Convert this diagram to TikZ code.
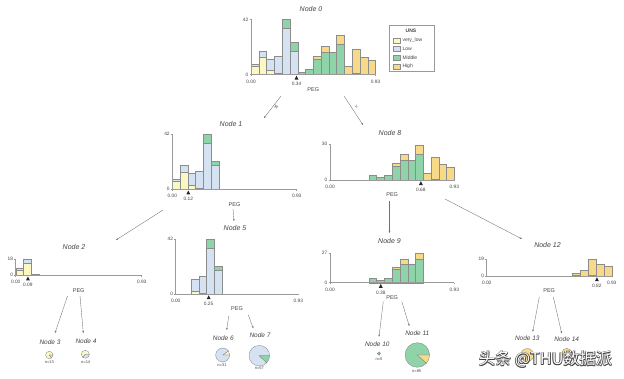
\documentclass[tikz,border=0pt]{standalone}
\usepackage{fontspec}
\setmainfont{Liberation Sans}
\newfontfamily\cjkfont{Noto Sans CJK SC}
\newfontfamily\symfont{DejaVu Sans}
\usetikzlibrary{arrows.meta}

\definecolor{cvl}{HTML}{FBF8C4}
\definecolor{clow}{HTML}{D5E2F1}
\definecolor{cmid}{HTML}{8FD3A8}
\definecolor{chigh}{HTML}{F7D98A}
\definecolor{axisgray}{HTML}{9A9A9A}
\definecolor{txtgray}{HTML}{444444}
\definecolor{edgegray}{HTML}{707070}

\tikzset{
  barline/.style={draw=black!45, line width=0.3pt},
  axisline/.style={draw=axisgray, line width=0.45pt},
  ticklbl/.style={text=txtgray, font=\fontsize{4.8}{5}\selectfont, inner sep=0pt},
  featlbl/.style={text=txtgray, font=\fontsize{5.5}{6}\selectfont, inner sep=0pt},
  titlelbl/.style={text=txtgray, font=\fontsize{7}{8}\selectfont\itshape, inner sep=0pt},
  leaftitle/.style={text=txtgray, font=\fontsize{6.5}{7}\selectfont\itshape, inner sep=0pt},
  nlbl/.style={text=txtgray, font=\fontsize{4}{4.5}\selectfont, inner sep=0pt},
  splitmark/.style={fill=black!85},
  edgeline/.style={draw=edgegray, line width=0.35pt, -{Stealth[length=2.2pt,width=1.8pt]}},
  pieline/.style={draw=black!50, line width=0.3pt},
  legtext/.style={text=txtgray, font=\fontsize{5}{6}\selectfont, inner sep=0pt, anchor=west},
}

% #1 x0, #2 y0, #3 unit, #4 bar width, #5 list idx/vl/low/mid/high
\newcommand{\histbars}[5]{%
  \foreach \bi/\ba/\bb/\bc/\bd in {#5}{%
    \pgfmathsetmacro\xl{#1+\bi*#4}%
    \pgfmathsetmacro\xr{\xl+#4}%
    \pgfmathsetmacro\ya{#2}%
    \pgfmathsetmacro\yb{\ya-\ba*#3}%
    \pgfmathsetmacro\yc{\yb-\bb*#3}%
    \pgfmathsetmacro\yd{\yc-\bc*#3}%
    \pgfmathsetmacro\ye{\yd-\bd*#3}%
    \ifdim\ba pt>0pt \draw[barline,fill=cvl] (\xl,\ya) rectangle (\xr,\yb);\fi
    \ifdim\bb pt>0pt \draw[barline,fill=clow] (\xl,\yb) rectangle (\xr,\yc);\fi
    \ifdim\bc pt>0pt \draw[barline,fill=cmid] (\xl,\yc) rectangle (\xr,\yd);\fi
    \ifdim\bd pt>0pt \draw[barline,fill=chigh] (\xl,\yd) rectangle (\xr,\ye);\fi
  }}

% #1 name, #2 x0, #3 y0, #4 length, #5 unit, #6 ymax, #7 split, #8 split label
\newcommand{\histframe}[8]{%
  \pgfmathsetmacro\ytop{#3-#6*#5}%
  \pgfmathsetmacro\xs{#2+#7/0.93*#4}%
  \pgfmathsetmacro\xe{#2+#4}%
  \pgfmathsetmacro\xm{#2+#4/2}%
  \draw[axisline] (#2,\ytop) -- (#2,#3) -- (\xe,#3);
  \draw[axisline] (#2-1.5,\ytop) -- (#2,\ytop);
  \draw[axisline] (#2-1.5,#3) -- (#2,#3);
  \draw[axisline] (#2,#3) -- (#2,#3+1.5);
  \draw[axisline] (\xe,#3) -- (\xe,#3+1.5);
  \node[ticklbl,anchor=east] (#1ymax) at (#2-2.5,\ytop) {#6};
  \node[ticklbl,anchor=east] (#1yzero) at (#2-2.5,#3) {0};
  \node[ticklbl] (#1xmin) at (#2,#3+7) {0.00};
  \node[ticklbl] (#1xmax) at (\xe,#3+7) {0.93};
  \fill[splitmark] (\xs,#3+1.2) -- (\xs-2,#3+5.2) -- (\xs+2,#3+5.2) -- cycle;
  \node[ticklbl] (#1xsplit) at (\xs,#3+9.8) {#8};
  \node[featlbl] (#1feat) at (\xm,#3+15) {PEG};
}

\newcommand{\pieslice}[4]{\filldraw[pieline,fill=#4] (0,0) -- (#1:#3) arc[start angle=#1,end angle=#2,radius=#3] -- cycle;}

\begin{document}
\begin{tikzpicture}[x=1pt,y=-1pt]
\useasboundingbox (0,0) rectangle (624,379);
\fill[white] (0,0) rectangle (624,379);

% ---------- Node 0 ----------
\node[titlelbl] (n0title) at (311,9) {Node 0};
\histbars{251}{74.5}{1.31}{7.78}{0/6/2/0/0, 1/13/5/0/0, 2/3/9/0/0, 3/1/13/0/0, 4/0/35/7/0, 5/0/18/7/0, 6/0/0/2/0, 7/0/0/4/0, 8/0/0/12/2, 9/0/0/17/5, 10/0/0/17/0, 11/0/0/23/7, 12/0/0/0/6, 13/0/0/1/18, 14/0/0/0/13, 15/0/0/0/11}
\histframe{n0}{251}{74.5}{124.5}{1.31}{42}{0.34}{0.34}

% legend
\draw[draw=black!40, line width=0.4pt, fill=white] (389,25) rectangle (434,71.7);
\node[text=txtgray, font=\fontsize{5}{6}\selectfont\bfseries, inner sep=0pt] (legtitle) at (411,31) {UNS};
\draw[barline,fill=cvl] (393,38.6) rectangle (400.6,42.8);
\node[legtext] (leg1) at (402.3,40.7) {very\_low};
\draw[barline,fill=clow] (393,46.6) rectangle (400.6,50.8);
\node[legtext] (leg2) at (402.3,48.7) {Low};
\draw[barline,fill=cmid] (393,55.6) rectangle (400.6,59.8);
\node[legtext] (leg3) at (402.3,57.7) {Middle};
\draw[barline,fill=chigh] (393,64.6) rectangle (400.6,68.8);
\node[legtext] (leg4) at (402.3,66.7) {High};

% ---------- Node 1 ----------
\node[titlelbl] (n1title) at (231,124) {Node 1};
\histbars{172.3}{189.3}{1.317}{7.775}{0/6/2/0/0, 1/13/5/0/0, 2/3/9/0/0, 3/1/13/0/0, 4/0/35/7/0, 5/0/18/3/0}
\histframe{n1}{172.3}{189.3}{124.4}{1.317}{42}{0.12}{0.12}

% ---------- Node 8 ----------
\node[titlelbl] (n8title) at (390,133.5) {Node 8};
\histbars{330}{180}{1.19}{7.77}{5/0/0/4/0, 6/0/0/2/0, 7/0/0/4/0, 8/0/0/12/2, 9/0/0/17/5, 10/0/0/17/0, 11/0/0/22/7, 12/0/0/0/6, 13/0/0/1/18, 14/0/0/0/13, 15/0/0/0/11}
\histframe{n8}{330}{180}{124.3}{1.19}{30}{0.68}{0.68}

% ---------- Node 2 ----------
\node[titlelbl] (n2title) at (74,247) {Node 2};
\histbars{15.7}{275.3}{0.906}{7.875}{0/6/2/0/0, 1/13/5/0/0, 2/1/0/0/0}
\histframe{n2}{15.7}{275.3}{126}{0.906}{18}{0.09}{0.09}

% ---------- Node 5 ----------
\node[titlelbl] (n5title) at (235,228.5) {Node 5};
\histbars{175.7}{294}{1.31}{7.66}{2/2/9/0/0, 3/1/13/0/0, 4/0/35/7/0, 5/0/18/3/0}
\histframe{n5}{175.7}{294}{122.6}{1.31}{42}{0.25}{0.25}

% ---------- Node 9 ----------
\node[titlelbl] (n9title) at (389.5,241) {Node 9};
\histbars{330}{282.7}{1.089}{7.77}{5/0/0/4/0, 6/0/0/2/0, 7/0/0/4/0, 8/0/0/12/2, 9/0/0/17/5, 10/0/0/17/0, 11/0/0/22/5}
\histframe{n9}{330}{282.7}{124.3}{1.089}{27}{0.38}{0.38}

% ---------- Node 12 ----------
\node[titlelbl] (n12title) at (547.5,245.5) {Node 12};
\histbars{486.7}{276}{0.895}{7.81}{11/0/0/1/2, 12/0/0/0/6, 13/0/0/1/18, 14/0/0/0/13, 15/0/0/0/11}
\histframe{n12}{486.7}{276}{125}{0.895}{19}{0.82}{0.82}

% ---------- leaves ----------
\node[leaftitle] (n3title) at (50,341.7) {Node 3};
\begin{scope}[shift={(49.3,355)},yscale=-1]
  \pieslice{0}{305}{3.7}{cvl}\pieslice{305}{360}{3.7}{clow}
\end{scope}
\node[nlbl] (n3n) at (49.3,362) {n=13};

\node[leaftitle] (n4title) at (86,341) {Node 4};
\begin{scope}[shift={(85.3,354.3)},yscale=-1]
  \pieslice{0}{231}{4}{cvl}\pieslice{231}{360}{4}{clow}
\end{scope}
\node[nlbl] (n4n) at (85.7,361.7) {n=14};

\node[leaftitle] (n6title) at (223.3,338.3) {Node 6};
\begin{scope}[shift={(222.7,355)},yscale=-1]
  \pieslice{0}{35}{7}{cvl}\pieslice{35}{360}{7}{clow}
\end{scope}
\node[nlbl] (n6n) at (222,365.3) {n=31};

\node[leaftitle] (n7title) at (260,335.3) {Node 7};
\begin{scope}[shift={(259.3,355.7)},yscale=-1]
  \pieslice{0}{316}{10.3}{clow}\pieslice{316}{360}{10.3}{cmid}
\end{scope}
\node[nlbl] (n7n) at (259.3,368.3) {n=57};

\node[leaftitle] (n10title) at (377.3,344) {Node 10};
\begin{scope}[shift={(379,353.5)},yscale=-1]
  \pieslice{0}{288}{1.6}{cmid}\pieslice{288}{360}{1.6}{chigh}
\end{scope}
\node[nlbl] (n10n) at (379,358.8) {n=5};

\node[leaftitle] (n11title) at (417.3,333.3) {Node 11};
\begin{scope}[shift={(417.3,355)},yscale=-1]
  \pieslice{0}{318}{12.3}{cmid}\pieslice{318}{360}{12.3}{chigh}
\end{scope}
\node[nlbl] (n11n) at (416.7,370.7) {n=85};

\node[leaftitle] (n13title) at (527.3,337.7) {Node 13};
\draw[pieline,fill=chigh] (527.3,355) circle[radius=6.5];
\node[leaftitle] (n14title) at (566.7,339.3) {Node 14};
\draw[pieline,fill=chigh] (566.7,353.3) circle[radius=5];

% ---------- edges ----------
\coordinate (e01a) at (281,96);   \coordinate (e01b) at (264,118);
\coordinate (e08a) at (344,96);   \coordinate (e08b) at (363,125);
\coordinate (e12a) at (163,210);  \coordinate (e12b) at (116,240);
\coordinate (e15a) at (233,209);  \coordinate (e15b) at (234,221);
\coordinate (e89a) at (389.5,201);\coordinate (e89b) at (389.5,233);
\coordinate (e812a) at (445,199); \coordinate (e812b) at (522,239);
\coordinate (e23a) at (67.5,296); \coordinate (e23b) at (55,333);
\coordinate (e24a) at (80,296);   \coordinate (e24b) at (83.3,333);
\coordinate (e56a) at (228.7,316);\coordinate (e56b) at (226.7,330);
\coordinate (e57a) at (248.3,315);\coordinate (e57b) at (253.3,328.3);
\coordinate (e910a) at (383.3,301.5);\coordinate (e910b) at (379,336.7);
\coordinate (e911a) at (401.7,301.5);\coordinate (e911b) at (409.3,326);
\coordinate (e1213a) at (539.3,297);\coordinate (e1213b) at (532.7,331.7);
\coordinate (e1214a) at (553.3,297);\coordinate (e1214b) at (561.7,333.3);
\foreach \s/\t in {e01a/e01b, e08a/e08b, e12a/e12b, e15a/e15b, e89a/e89b, e812a/e812b, e23a/e23b, e24a/e24b, e56a/e56b, e57a/e57b, e910a/e910b, e911a/e911b, e1213a/e1213b, e1214a/e1214b}
  \draw[edgeline] (\s) -- (\t);
\node[text=txtgray, font=\symfont\fontsize{5}{5}\selectfont, inner sep=0pt, rotate=52] (lbl01) at (276,106.5) {≤};
\node[text=txtgray, font=\fontsize{5}{5}\selectfont, inner sep=0pt, rotate=-57] (lbl08) at (356.5,106.5) {>};

% ---------- watermark ----------
\foreach \dx/\dy in {0.6/0.6, -0.6/0.6, 0.6/-0.6, -0.6/-0.6}
  \node[text=black!75, font=\cjkfont\fontsize{16.2}{17}\selectfont, inner sep=0pt] at (545.5+\dx,359.5+\dy) {头条 @THU数据派};
\node[text=white, font=\cjkfont\fontsize{16.2}{17}\selectfont, inner sep=0pt] (wm) at (545.5,359.5) {头条 @THU数据派};
\end{tikzpicture}
\end{document}
